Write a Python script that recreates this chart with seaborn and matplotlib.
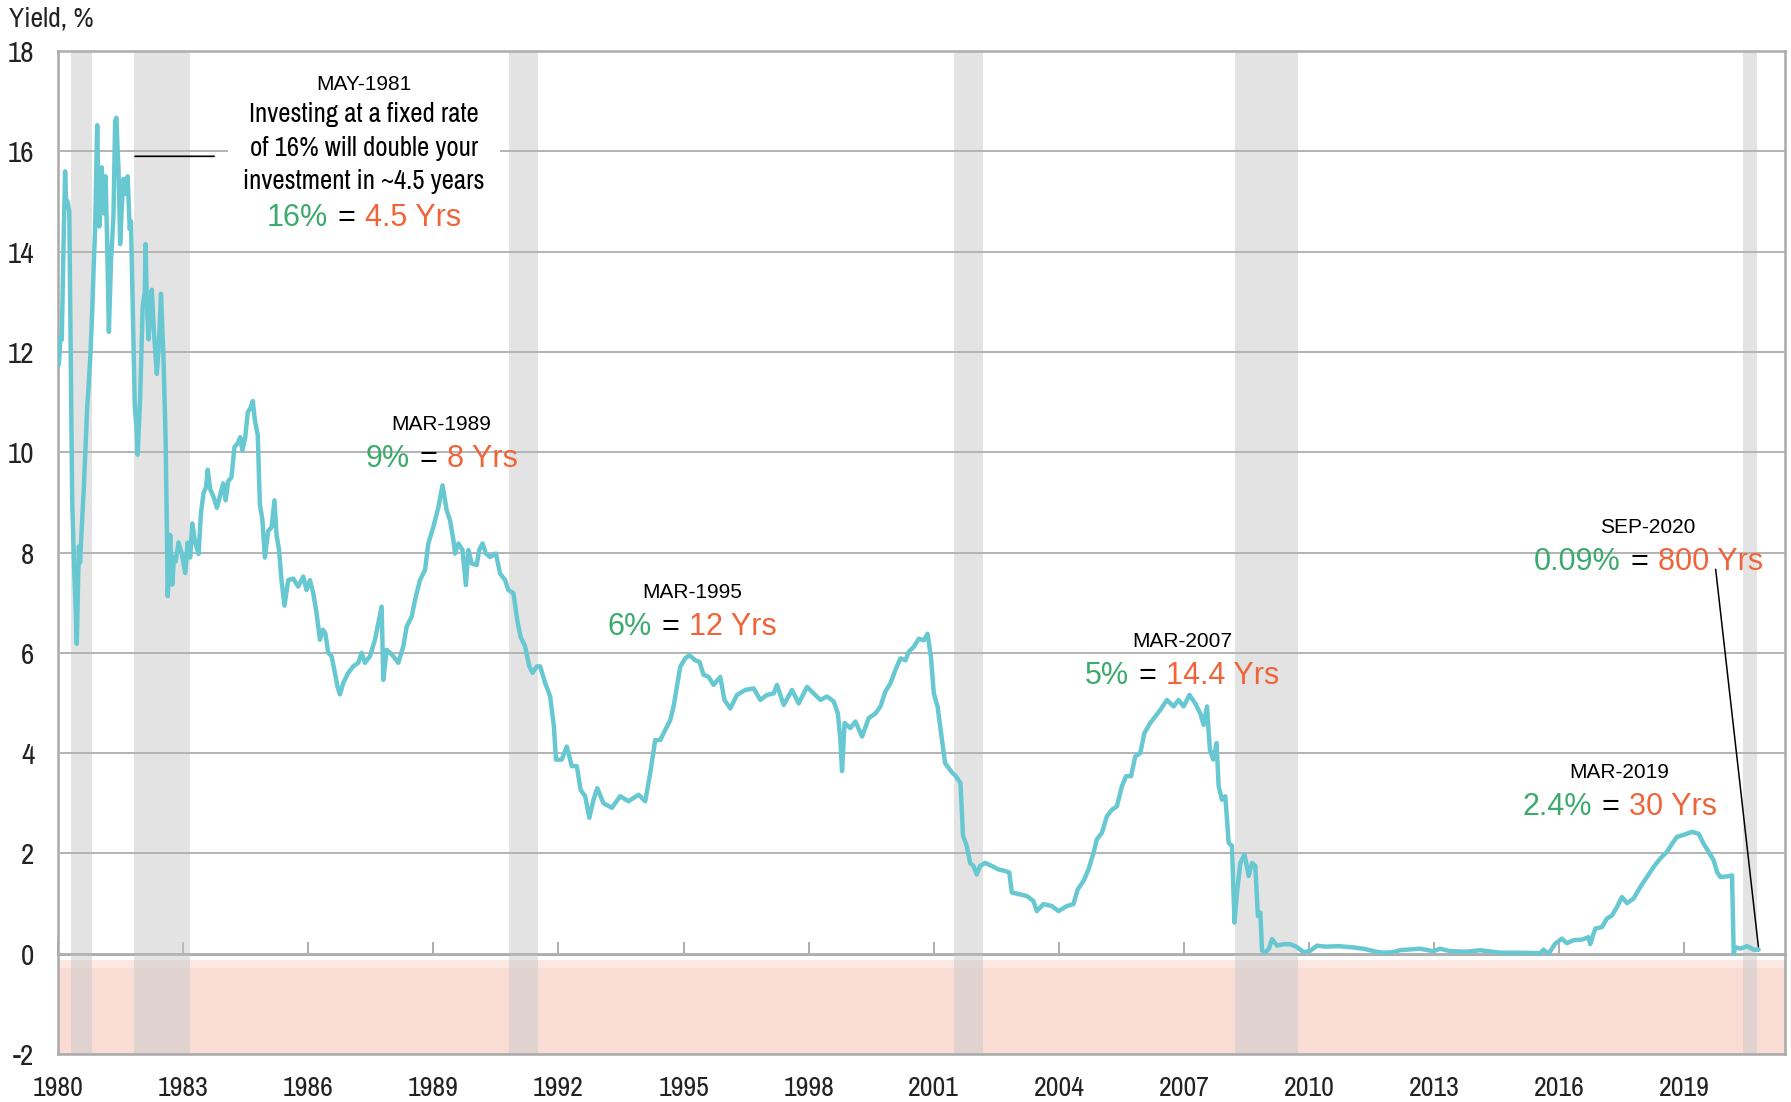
import os
import matplotlib
matplotlib.use("Agg")
import matplotlib.pyplot as plt
from matplotlib import font_manager
from matplotlib.font_manager import FontProperties
from matplotlib.offsetbox import TextArea, HPacker, VPacker, AnnotationBbox
import seaborn as sns

# 3-month yield (decimal years)
years = [
    1980.00, 1980.02, 1980.06, 1980.09, 1980.13, 1980.17, 1980.20, 1980.23, 1980.27, 1980.34,
    1980.39, 1980.42, 1980.45, 1980.50, 1980.53, 1980.57, 1980.62, 1980.65, 1980.70, 1980.73,
    1980.78, 1980.82, 1980.86, 1980.89, 1980.94, 1980.97, 1980.99, 1981.03, 1981.05, 1981.08,
    1981.10, 1981.14, 1981.18, 1981.22, 1981.27, 1981.33, 1981.37, 1981.40, 1981.43, 1981.45,
    1981.49, 1981.53, 1981.57, 1981.62, 1981.67, 1981.72, 1981.75, 1981.78, 1981.84, 1981.88,
    1981.91, 1981.97, 1982.03, 1982.08, 1982.10, 1982.13, 1982.17, 1982.22, 1982.25, 1982.30,
    1982.37, 1982.42, 1982.47, 1982.53, 1982.58, 1982.61, 1982.63, 1982.69, 1982.74, 1982.78,
    1982.82, 1982.89, 1982.97, 1983.05, 1983.11, 1983.17, 1983.22, 1983.29, 1983.37, 1983.43,
    1983.49, 1983.55, 1983.59, 1983.65, 1983.73, 1983.81, 1983.89, 1983.96, 1984.02, 1984.08,
    1984.16, 1984.23, 1984.31, 1984.37, 1984.42, 1984.49, 1984.55, 1984.61, 1984.67, 1984.72,
    1984.79, 1984.84, 1984.90, 1984.96, 1985.04, 1985.12, 1985.19, 1985.24, 1985.30, 1985.36,
    1985.43, 1985.52, 1985.64, 1985.76, 1985.88, 1985.96, 1986.04, 1986.12, 1986.20, 1986.28,
    1986.35, 1986.41, 1986.48, 1986.56, 1986.64, 1986.70, 1986.76, 1986.84, 1986.96, 1987.08,
    1987.20, 1987.28, 1987.36, 1987.48, 1987.60, 1987.68, 1987.76, 1987.80, 1987.88, 1987.96,
    1988.04, 1988.16, 1988.28, 1988.36, 1988.48, 1988.56, 1988.68, 1988.80, 1988.88, 1989.00,
    1989.12, 1989.22, 1989.32, 1989.40, 1989.48, 1989.52, 1989.60, 1989.70, 1989.78, 1989.84,
    1989.92, 1990.04, 1990.10, 1990.18, 1990.26, 1990.36, 1990.50, 1990.60, 1990.72, 1990.80,
    1990.92, 1991.01, 1991.09, 1991.20, 1991.30, 1991.38, 1991.48, 1991.56, 1991.68, 1991.80,
    1991.89, 1991.94, 1992.08, 1992.20, 1992.32, 1992.44, 1992.53, 1992.64, 1992.74, 1992.84,
    1992.93, 1993.08, 1993.28, 1993.48, 1993.68, 1993.92, 1994.08, 1994.20, 1994.32, 1994.44,
    1994.56, 1994.68, 1994.76, 1994.84, 1994.92, 1995.04, 1995.14, 1995.28, 1995.38, 1995.48,
    1995.60, 1995.72, 1995.88, 1995.98, 1996.12, 1996.28, 1996.48, 1996.68, 1996.84, 1997.00,
    1997.16, 1997.24, 1997.40, 1997.60, 1997.76, 1997.96, 1998.12, 1998.28, 1998.44, 1998.60,
    1998.70, 1998.76, 1998.80, 1998.86, 1999.00, 1999.12, 1999.28, 1999.44, 1999.60, 1999.72,
    1999.84, 1999.96, 2000.08, 2000.20, 2000.32, 2000.40, 2000.52, 2000.64, 2000.76, 2000.85,
    2000.93, 2001.00, 2001.09, 2001.19, 2001.27, 2001.43, 2001.53, 2001.64, 2001.70, 2001.79,
    2001.87, 2001.95, 2002.03, 2002.11, 2002.23, 2002.39, 2002.55, 2002.71, 2002.81, 2002.87,
    2003.03, 2003.23, 2003.39, 2003.47, 2003.63, 2003.83, 2003.99, 2004.19, 2004.35, 2004.45,
    2004.59, 2004.71, 2004.83, 2004.91, 2005.03, 2005.15, 2005.27, 2005.39, 2005.51, 2005.61,
    2005.73, 2005.83, 2005.95, 2006.05, 2006.19, 2006.31, 2006.43, 2006.59, 2006.75, 2006.87,
    2006.99, 2007.13, 2007.27, 2007.39, 2007.47, 2007.55, 2007.62, 2007.70, 2007.78, 2007.83,
    2007.91, 2007.99, 2008.07, 2008.15, 2008.21, 2008.27, 2008.35, 2008.45, 2008.55, 2008.63,
    2008.71, 2008.77, 2008.83, 2008.87, 2008.95, 2009.03, 2009.11, 2009.23, 2009.39, 2009.55,
    2009.71, 2009.87, 2010.03, 2010.19, 2010.40, 2010.70, 2011.00, 2011.30, 2011.60, 2011.80,
    2012.00, 2012.18, 2012.66, 2012.98, 2013.14, 2013.38, 2013.78, 2014.10, 2014.58, 2015.06,
    2015.54, 2015.62, 2015.74, 2015.90, 2016.06, 2016.18, 2016.34, 2016.54, 2016.70, 2016.74,
    2016.86, 2017.02, 2017.14, 2017.26, 2017.38, 2017.50, 2017.62, 2017.78, 2017.94, 2018.10,
    2018.26, 2018.42, 2018.58, 2018.70, 2018.82, 2018.98, 2019.18, 2019.34, 2019.46, 2019.58,
    2019.70, 2019.78, 2019.86, 2020.02, 2020.14, 2020.18, 2020.22, 2020.34, 2020.50, 2020.66,
    2020.78,
]
yields = [
    12.00, 11.75, 12.30, 12.24, 14.00, 15.60, 14.90, 15.00, 14.80, 9.04,
    7.60, 7.00, 6.18, 8.12, 7.80, 8.50, 9.30, 9.90, 10.90, 11.25,
    12.00, 12.80, 13.80, 14.46, 16.52, 15.00, 14.50, 15.30, 15.68, 15.00,
    14.76, 15.50, 14.15, 12.40, 13.80, 14.70, 16.60, 16.67, 16.00, 15.68,
    14.15, 14.90, 15.45, 15.15, 15.50, 14.45, 14.60, 13.40, 10.95, 10.50,
    9.95, 11.10, 12.90, 13.20, 14.15, 13.00, 12.25, 13.00, 13.24, 12.40,
    11.56, 12.17, 13.16, 11.86, 10.26, 8.50, 7.13, 8.35, 7.36, 7.90,
    7.82, 8.20, 7.97, 7.59, 8.20, 7.90, 8.58, 8.20, 7.97, 8.80,
    9.19, 9.30, 9.65, 9.26, 9.11, 8.89, 9.15, 9.38, 9.04, 9.42,
    9.50, 10.10, 10.18, 10.30, 10.03, 10.30, 10.80, 10.87, 11.02, 10.64,
    10.34, 8.96, 8.66, 7.90, 8.43, 8.50, 9.04, 8.35, 8.05, 7.44,
    6.94, 7.45, 7.48, 7.32, 7.52, 7.25, 7.45, 7.19, 6.79, 6.26,
    6.46, 6.39, 6.00, 5.93, 5.60, 5.33, 5.17, 5.40, 5.60, 5.73,
    5.80, 6.00, 5.80, 5.93, 6.26, 6.59, 6.92, 5.46, 6.06, 6.00,
    5.93, 5.80, 6.13, 6.52, 6.72, 7.05, 7.45, 7.65, 8.18, 8.51,
    8.90, 9.34, 8.84, 8.64, 8.25, 7.98, 8.18, 8.05, 7.35, 8.05,
    7.78, 7.75, 8.05, 8.18, 7.98, 7.91, 7.98, 7.58, 7.45, 7.25,
    7.19, 6.66, 6.32, 6.13, 5.73, 5.60, 5.73, 5.73, 5.40, 5.13,
    4.54, 3.87, 3.87, 4.13, 3.74, 3.74, 3.27, 3.14, 2.71, 3.07,
    3.30, 3.00, 2.91, 3.14, 3.04, 3.17, 3.04, 3.60, 4.26, 4.26,
    4.46, 4.66, 4.93, 5.32, 5.72, 5.89, 5.95, 5.85, 5.82, 5.56,
    5.52, 5.36, 5.52, 5.06, 4.89, 5.16, 5.26, 5.29, 5.06, 5.16,
    5.19, 5.36, 4.96, 5.26, 4.99, 5.32, 5.19, 5.06, 5.13, 5.03,
    4.79, 4.26, 3.64, 4.60, 4.50, 4.63, 4.33, 4.70, 4.79, 4.93,
    5.23, 5.39, 5.66, 5.89, 5.85, 6.02, 6.12, 6.28, 6.25, 6.38,
    5.92, 5.19, 4.93, 4.30, 3.80, 3.62, 3.54, 3.40, 2.35, 2.15,
    1.81, 1.75, 1.58, 1.75, 1.81, 1.75, 1.68, 1.65, 1.62, 1.22,
    1.19, 1.15, 1.05, 0.85, 0.99, 0.95, 0.85, 0.95, 0.99, 1.28,
    1.45, 1.68, 2.01, 2.28, 2.41, 2.74, 2.87, 2.94, 3.34, 3.54,
    3.54, 3.93, 4.00, 4.40, 4.60, 4.73, 4.86, 5.06, 4.93, 5.06,
    4.93, 5.16, 4.99, 4.79, 4.56, 4.93, 4.07, 3.87, 4.20, 3.34,
    3.07, 3.14, 2.21, 2.15, 0.62, 1.22, 1.81, 1.98, 1.55, 1.81,
    1.75, 0.75, 0.82, 0.06, 0.03, 0.09, 0.29, 0.16, 0.19, 0.19,
    0.13, 0.03, 0.06, 0.16, 0.14, 0.15, 0.13, 0.10, 0.04, 0.02,
    0.03, 0.07, 0.10, 0.05, 0.10, 0.05, 0.04, 0.07, 0.02, 0.02,
    0.01, 0.08, 0.00, 0.20, 0.30, 0.21, 0.27, 0.28, 0.33, 0.19,
    0.50, 0.53, 0.70, 0.76, 0.93, 1.13, 1.01, 1.10, 1.33, 1.53,
    1.73, 1.90, 2.03, 2.19, 2.33, 2.37, 2.43, 2.39, 2.19, 2.03,
    1.86, 1.63, 1.53, 1.54, 1.56, 0.00, 0.13, 0.10, 0.15, 0.08,
    0.08,
]

# recession periods (start, end)
rec_start = [1980.32, 1981.83, 1990.82, 2001.49, 2008.23, 2020.40]
rec_end = [1980.82, 1983.17, 1991.51, 2002.18, 2009.73, 2020.74]

xticks = list(range(1980, 2020, 3))
yticks = list(range(-2, 19, 2))
ytick_labels = [str(t) for t in yticks]

# annotations: (date label, x, y, rate, years)
notes = [
    ("MAR-1989", 1989.2, 10.15, "9%", "8 Yrs"),
    ("MAR-1995", 1995.2, 6.8, "6%", "12 Yrs"),
    ("MAR-2007", 2006.95, 5.82, "5%", "14.4 Yrs"),
    ("MAR-2019", 2017.44, 3.22, "2.4%", "30 Yrs"),
    ("SEP-2020", 2018.13, 8.1, "0.09%", "800 Yrs"),
]

GREEN = "#3daa6d"
ORANGE = "#f0643a"
LINE = "#67c8d1"
GRID = "#b3b3b3"

sns.set_style("white")
names = {f.name for f in font_manager.fontManager.ttflist}
wide = "Liberation Sans" if "Liberation Sans" in names else "DejaVu Sans"
plt.rcParams["font.family"] = [wide, "DejaVu Sans"]


def find_narrow():
    # look for an installed narrow / condensed sans face
    bad = ("bold", "italic", "oblique", "light", "thin", "black", "medium", "semi",
           "extra", "ultra", "mono", "cjk", "serif", "heavy", "display")
    best = None
    for f in font_manager.fontManager.ttflist:
        fn = os.path.basename(f.fname).lower()
        if not ("narrow" in fn or "condensed" in fn or f.stretch == "condensed"):
            continue
        if f.style != "normal" or any(b in fn.replace("sans", "") for b in bad):
            continue
        score = 0 if "narrow" in fn else 1
        if best is None or score < best[0]:
            best = (score, f.fname)
    return best[1] if best else None


narrow_file = find_narrow()


def nfp(size):
    if narrow_file:
        return FontProperties(fname=narrow_file, size=size)
    return FontProperties(family=wide, size=size * 0.9)


fig = plt.figure(figsize=(17.91, 11.02), dpi=100)
ax = fig.add_axes([58 / 1791, 1 - 1054 / 1102, (1785 - 58) / 1791, (1054 - 51) / 1102])

# negative zone
ax.axhspan(-2, -0.28, color="#f9ddd5", lw=0, zorder=0)
ax.axhspan(-0.28, -0.13, color="#fce8e2", lw=0, zorder=0)
for s, e in zip(rec_start, rec_end):
    ax.axvspan(s, e, color="#c8c8c8", alpha=0.5, lw=0, zorder=1)

sns.lineplot(x=years, y=yields, ax=ax, color=LINE, linewidth=3.2, zorder=4)

ax.set_xlim(1980, 2021.41)
ax.set_ylim(-2, 18)
ax.set_axisbelow(False)
ax.set_yticks(yticks)
ax.set_yticklabels(ytick_labels)
ax.set_xticks(xticks)
ax.set_xticklabels([str(t) for t in xticks])
ax.yaxis.grid(True, color=GRID, lw=1.4)
ax.xaxis.grid(False)
ax.tick_params(axis="both", length=0, colors="#222222")
ax.tick_params(axis="y", pad=17)
ax.tick_params(axis="x", pad=16)
for lbl in ax.get_xticklabels():
    lbl.set_fontproperties(nfp(20))
for lbl in ax.get_yticklabels():
    lbl.set_fontproperties(nfp(21))
for sp in ax.spines.values():
    sp.set_color("#a9a9a9")
    sp.set_linewidth(1.8)
ax.set_xlabel("")
ax.set_ylabel("")

# zero line with tick marks
sec = ax.secondary_xaxis(0.1)
sec.set_xticks(xticks)
sec.set_xticklabels([])
sec.tick_params(direction="in", length=9, width=1.2, color="#a0a0a0")
sec.spines["bottom"].set_color("#a0a0a0")
sec.spines["bottom"].set_linewidth(2)

fig.text(9 / 1791, 1 - 6 / 1102, "Yield, %", fontproperties=nfp(20), ha="left", va="top",
         color="#222222")


def rate_line(rate, yrs, size=22):
    parts = [TextArea(rate, textprops=dict(color=GREEN, fontsize=size, family=wide)),
             TextArea("=", textprops=dict(color="black", fontsize=size, family=wide)),
             TextArea(yrs, textprops=dict(color=ORANGE, fontsize=size, family=wide))]
    return HPacker(children=parts, align="baseline", pad=0, sep=7)


# May-1981 block with white background
head = TextArea("MAY-1981", textprops=dict(fontsize=15, family=wide, color="black"))
body = TextArea("Investing at a fixed rate\nof 16% will double your\ninvestment in ~4.5 years",
                textprops=dict(fontproperties=nfp(19.3), color="black",
                               ha="center", multialignment="center", linespacing=1.42))
block = VPacker(children=[head, body, rate_line("16%", "4.5 Yrs")], align="center", pad=0, sep=6)
ab = AnnotationBbox(block, (1987.34, 15.95), xycoords="data", box_alignment=(0.5, 0.5),
                    frameon=True, pad=1.1, bboxprops=dict(facecolor="white", edgecolor="none"),
                    zorder=3)
ax.add_artist(ab)
ax.annotate("", xy=(1981.78, 15.9), xytext=(1983.81, 15.9),
            arrowprops=dict(arrowstyle="-", color="black", lw=1.2), zorder=6)

for label, x, y, rate, yrs in notes:
    head = TextArea(label, textprops=dict(fontsize=15, family=wide, color="black"))
    box = VPacker(children=[head, rate_line(rate, yrs)], align="center", pad=0, sep=7)
    ax.add_artist(AnnotationBbox(box, (x, y), xycoords="data", box_alignment=(0.5, 0.5),
                                 frameon=False, pad=0, zorder=5))

ax.annotate("", xy=(years[-1], yields[-1]), xytext=(2019.74, 7.72),
            arrowprops=dict(arrowstyle="-", color="black", lw=1.1), zorder=6)

fig.savefig("out.png", dpi=100)
